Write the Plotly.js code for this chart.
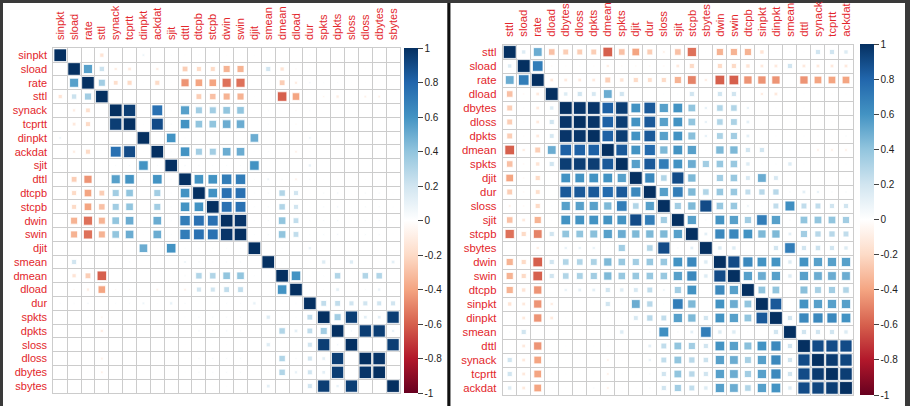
<!DOCTYPE html>
<html>
<head>
<meta charset="utf-8">
<script src="https://cdn.plot.ly/plotly-3.0.1.min.js"></script>
<style>html,body{margin:0;padding:0;background:#fff}#chart{width:910px;height:406px}</style>
</head>
<body>
<div id="chart"></div>
<script>
// ---------- DATA ----------
const labelsLeft = ["sinpkt","sload","rate","sttl","synack","tcprtt","dinpkt","ackdat","sjit","dttl","dtcpb","stcpb","dwin","swin","djit","smean","dmean","dload","dur","spkts","dpkts","sloss","dloss","dbytes","sbytes"];
const labelsRight = ["sttl","sload","rate","dload","dbytes","dloss","dpkts","dmean","spkts","djit","dur","sloss","sjit","stcpb","sbytes","dwin","swin","dtcpb","sinpkt","dinpkt","smean","dttl","synack","tcprtt","ackdat"];

// lower triangle (row i lists correlations with columns 0..i-1), diagonal = 1
const lowerLeft = [
 [],
 [0.02],
 [0.03,0.55],
 [-0.15,0.22,0.35],
 [0,-0.1,-0.18,0],
 [0.02,-0.12,-0.2,0,0.95],
 [0.08,0.02,0.03,0,0.02,0.03],
 [0.01,-0.1,-0.2,0,0.75,0.9,0.02],
 [0.04,0.02,0.03,0,0.04,0.05,0.6,0.04],
 [0.03,-0.25,-0.45,0,0.55,0.6,0.03,0.6,0.05],
 [0.03,-0.2,-0.4,-0.25,0.35,0.4,0.02,0.35,0.04,0.6],
 [0.03,-0.2,-0.4,-0.3,0.35,0.4,0.02,0.35,0.04,0.6,0.6],
 [0.03,-0.35,-0.55,-0.35,0.4,0.5,0.02,0.5,0.04,0.7,0.75,0.75],
 [0.03,-0.35,-0.55,-0.35,0.4,0.5,0.02,0.5,0.04,0.7,0.75,0.75,0.98],
 [0.03,0.02,0.03,0.02,0.02,0.02,0.5,0.03,0.6,0.04,0.04,0.04,0.04,0.04],
 [0.02,0.2,0.04,0,0.04,0.04,0,0.04,0,0.08,0.05,0.05,0.05,0.05,0],
 [0.02,-0.15,-0.25,-0.6,0,0,0,0,0,0.05,0.3,0.3,0.4,0.4,0.04,0.03],
 [0.02,-0.05,-0.1,-0.4,-0.05,-0.05,0,-0.08,0,-0.08,0.2,0.2,0.25,0.25,0,0.02,0.6],
 [0.04,0.04,0.06,0,0.04,0.04,0.08,0.03,0.1,0.05,0.03,0.03,0.04,0.04,0.1,0.03,0.03,0.04],
 [0,0.02,0.04,-0.06,0,0,0,0,0,0.03,0.05,0.05,0.05,0.05,0,0.15,0.04,0.04,0.25],
 [0,0.02,0.04,-0.1,0,0,0,0,0,0.03,0.06,0.06,0.06,0.06,0,0.03,0.3,0.12,0.25,0.35],
 [0,0,0.03,0.02,0,0,0,0,0,0.02,0.03,0.03,0.03,0.03,0,0.15,0.02,0.03,0.2,0.95,0.06],
 [0,0.02,0.03,-0.08,0,0,0,0,0,0.03,0.05,0.05,0.05,0.05,0,0.03,0.3,0.05,0.2,0.12,0.95,0],
 [0,0.02,0.03,-0.08,0,0,0,0,0,0.03,0.05,0.05,0.05,0.05,0,0.03,0.3,0.1,0.2,0.12,0.95,0.02,0.98],
 [0,0,0.02,0.02,0,0,0,0,0,0.02,0.03,0.03,0.03,0.03,0,0.12,0,0.02,0.2,0.95,0.1,0.95,0,0.03]
];

const lowerRight = [
 [],
 [0.15],
 [0.5,0.7],
 [-0.3,-0.05,-0.12],
 [-0.25,-0.04,-0.12,0.15],
 [-0.25,-0.04,-0.12,0.2,0.98],
 [-0.25,-0.04,-0.12,0.18,0.98,0.98],
 [-0.6,-0.1,-0.25,0.5,0.82,0.82,0.82],
 [-0.3,-0.05,-0.15,0.2,0.95,0.95,0.95,0.85],
 [-0.4,-0.05,-0.2,0,0.6,0.6,0.6,0.6,0.55],
 [-0.25,-0.05,-0.18,0,0.85,0.85,0.85,0.78,0.85,0.65],
 [-0.08,-0.05,-0.2,0.04,0.55,0.55,0.55,0.45,0.7,0.3,0.55],
 [-0.3,-0.12,-0.35,0.04,0.6,0.6,0.6,0.6,0.6,0.9,0.7,0.35],
 [-0.55,-0.2,-0.5,0.2,0.4,0.4,0.42,0.55,0.5,0.45,0.45,0.45,0.55],
 [0.02,0,-0.1,0,0.1,0.1,0.1,0.04,0.35,0,0.3,0.9,0.05,0.12],
 [-0.35,-0.2,-0.6,0.2,0.3,0.3,0.32,0.45,0.38,0.35,0.38,0.38,0.6,0.65,0.15],
 [-0.35,-0.2,-0.6,0.2,0.3,0.32,0.35,0.45,0.38,0.38,0.38,0.38,0.55,0.65,0.15,0.9],
 [-0.35,-0.15,-0.45,0,0.1,0.12,0.12,0.2,0.15,0.18,0.25,0.08,0.35,0.6,0,0.65,0.55],
 [-0.15,-0.12,-0.45,-0.1,0,0,0.03,0.2,0.04,0.5,0.28,0.04,0.7,0.45,0,0.6,0.5,0.4],
 [0.03,-0.12,-0.45,-0.12,0.03,0.03,0.03,0.04,0.04,0.18,0.28,0.25,0.55,0.45,0.2,0.6,0.55,0.4,0.85],
 [0.04,0.2,0,-0.03,0.03,0.03,0.03,-0.04,0.15,0,0.05,0.62,0.05,0.12,0.7,0.15,0.15,0.04,0,0.2],
 [0.03,-0.12,-0.45,0.03,0.03,0.03,0.03,-0.04,0.03,0,0.12,0.25,0.4,0.35,0.2,0.6,0.55,0.42,0.6,0.65,0.2],
 [0.2,-0.12,-0.4,-0.04,0.03,0.03,0.03,-0.08,0.03,0.03,0.1,0.25,0.4,0.28,0.22,0.55,0.5,0.33,0.55,0.65,0.2,0.9],
 [0.2,-0.12,-0.4,-0.04,0.03,0.03,0.03,-0.08,0.03,0.03,0.05,0.2,0.4,0.28,0.2,0.55,0.5,0.35,0.55,0.65,0.2,0.9,0.96],
 [0.15,-0.12,-0.4,-0.03,0.03,0.03,0.05,-0.08,0.03,0.03,0.05,0.2,0.35,0.25,0.15,0.55,0.5,0.3,0.55,0.6,0.15,0.9,0.92,0.95]
];

const colorTickVals = [1,0.8,0.6,0.4,0.2,0,-0.2,-0.4,-0.6,-0.8,-1];
const colorTickText = ["1","0.8","0.6","0.4","0.2","0","-0.2","-0.4","-0.6","-0.8","-1"];

// ---------- STYLE / LAYOUT ----------
const W = 910, H = 406;
const px = v => v / W;
const py = v => 1 - v / H;
const RdBu = [[0,'#67001F'],[0.1,'#B2182B'],[0.2,'#D6604D'],[0.3,'#F4A582'],[0.4,'#FDDBC7'],[0.5,'#FFFFFF'],[0.6,'#D1E5F0'],[0.7,'#92C5DE'],[0.8,'#4393C3'],[0.9,'#2166AC'],[1,'#053061']];
const labelRed = '#e3262b';
const gridGray = '#cccccc';
const FONT = 'Liberation Sans, Arial, sans-serif';

const panels = {
  left:  {x0: 53.3, x1: 400.0, y0: 48.3, y1: 393.0},
  right: {x0: 502.7, x1: 853.0, y0: 45.0, y1: 395.0}
};

function matrixValue(lower, i, j) {
  if (i === j) return 1;
  return j < i ? lower[i][j] : lower[j][i];
}

function buildTrace(lower, labels, pan, xa, ya, cax) {
  const n = labels.length;
  const cell = Math.min((pan.x1 - pan.x0) / n, (pan.y1 - pan.y0) / n);
  const xs = [], ys = [], zs = [], ss = [];
  for (let i = 0; i < n; i++) {
    for (let j = 0; j < n; j++) {
      const r = matrixValue(lower, i, j);
      xs.push(j); ys.push(i); zs.push(r);
      ss.push(Math.max(0, Math.sqrt(Math.abs(r)) * cell - 1.2));
    }
  }
  return {
    type: 'scatter', mode: 'markers', x: xs, y: ys, xaxis: xa, yaxis: ya,
    hoverinfo: 'skip', showlegend: false,
    marker: {symbol: 'square', size: ss, color: zs, coloraxis: cax, opacity: 1,
             line: {color: '#ffffff', width: 0.8}}
  };
}

function axisPair(labels, pan, fontSize) {
  const n = labels.length;
  const idx = labels.map((_, k) => k);
  const common = {
    tickvals: idx, ticktext: labels, showgrid: false, zeroline: false,
    ticks: '', tickfont: {family: FONT, size: fontSize, color: labelRed},
    minor: {tick0: -0.5, dtick: 1, showgrid: true, gridcolor: gridGray, gridwidth: 1, ticks: ''},
    showline: true, mirror: true, linecolor: gridGray, linewidth: 1,
    fixedrange: true, automargin: false
  };
  const xax = Object.assign({}, common, {
    domain: [px(pan.x0), px(pan.x1)], range: [-0.5, n - 0.5], side: 'top', tickangle: -90,
    ticklabelstandoff: 5
  });
  const yax = Object.assign({}, common, {
    domain: [py(pan.y1), py(pan.y0)], range: [n - 0.5, -0.5], ticklabelstandoff: 3
  });
  return [xax, yax];
}

function colorAxis(xLeftPx, yTopPx, yBotPx) {
  return {
    cmin: -1, cmax: 1, colorscale: RdBu, showscale: true,
    colorbar: {
      x: px(xLeftPx), xanchor: 'left', xpad: 0, ypad: 0, thickness: 14,
      lenmode: 'fraction', len: (yBotPx - yTopPx) / H,
      y: py((yTopPx + yBotPx) / 2), yanchor: 'middle',
      outlinewidth: 0, tickmode: 'array', tickvals: colorTickVals, ticktext: colorTickText,
      ticks: 'outside', ticklen: 5, tickcolor: '#444', tickwidth: 1,
      tickfont: {family: FONT, size: 10, color: '#222'}
    }
  };
}

const [xL, yL] = axisPair(labelsLeft, panels.left, 11);
const [xR, yR] = axisPair(labelsRight, panels.right, 11.3);

const layout = {
  width: W, height: H, margin: {l: 0, r: 0, t: 0, b: 0},
  paper_bgcolor: '#3a3a3a', plot_bgcolor: 'rgba(0,0,0,0)',
  font: {family: FONT},
  xaxis: Object.assign(xL, {anchor: 'y'}),
  yaxis: Object.assign(yL, {anchor: 'x'}),
  xaxis2: Object.assign(xR, {anchor: 'y2'}),
  yaxis2: Object.assign(yR, {anchor: 'x2'}),
  coloraxis: colorAxis(404, 48.3, 393),
  coloraxis2: colorAxis(860, 44, 395),
  shapes: [
    {type: 'rect', xref: 'paper', yref: 'paper', x0: px(3), x1: px(447.5), y0: py(406), y1: py(3), fillcolor: '#ffffff', line: {width: 0}, layer: 'below'},
    {type: 'rect', xref: 'paper', yref: 'paper', x0: px(447.5), x1: px(450.5), y0: py(406), y1: py(3), fillcolor: '#111111', line: {width: 0}, layer: 'below'},
    {type: 'rect', xref: 'paper', yref: 'paper', x0: px(450.5), x1: px(905), y0: py(406), y1: py(3), fillcolor: '#ffffff', line: {width: 0}, layer: 'below'}
  ]
};

const data = [
  buildTrace(lowerLeft, labelsLeft, panels.left, 'x', 'y', 'coloraxis'),
  buildTrace(lowerRight, labelsRight, panels.right, 'x2', 'y2', 'coloraxis2')
];

Plotly.newPlot('chart', data, layout, {staticPlot: true, displayModeBar: false});
</script>
</body>
</html>
